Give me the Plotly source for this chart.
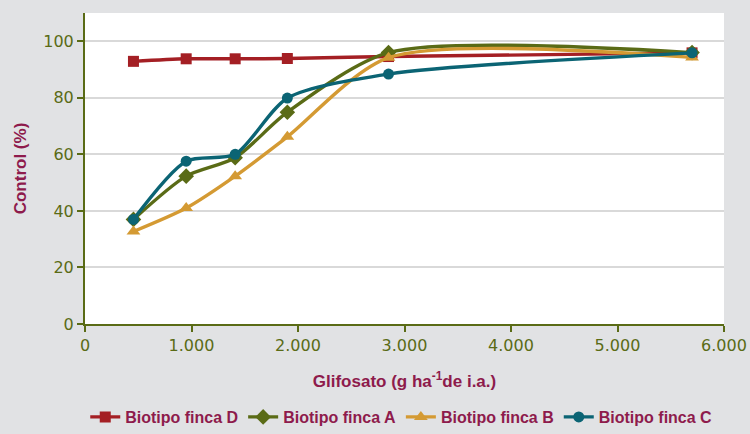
import plotly.graph_objects as go

# Glyphosate doses (g ha-1 a.i.)
dosis = [455, 950, 1410, 1900, 2850, 5700]

# Percent control per biotype
biotipo_d = [92.9, 93.8, 93.8, 93.9, 94.6, 95.9]
biotipo_a = [37.0, 52.3, 58.8, 74.9, 96.0, 96.0]
biotipo_b = [32.7, 41.0, 52.3, 66.2, 94.2, 94.3]
biotipo_c = [37.0, 57.6, 60.0, 79.9, 88.4, 95.9]

series = [
    ("Biotipo finca D", biotipo_d, "#A41F24", "square", 11),
    ("Biotipo finca A", biotipo_a, "#5A6B16", "diamond", 12),
    ("Biotipo finca B", biotipo_b, "#D49A33", "triangle-up", 12),
    ("Biotipo finca C", biotipo_c, "#0B6474", "circle", 11),
]

x_ticks = [0, 1000, 2000, 3000, 4000, 5000, 6000]
y_ticks = [0, 20, 40, 60, 80, 100]

TITLE_COLOR = "#8E1B4C"
TICK_COLOR = "#5A6B16"
LABEL_FONT = "Liberation Sans, Arial, sans-serif"
TICK_FONT = "DejaVu Sans, sans-serif"

fig = go.Figure()
for name, vals, color, symbol, size in series:
    fig.add_trace(go.Scatter(
        x=dosis, y=vals, name=name, mode="lines+markers",
        line=dict(color=color, width=3.4, shape="spline", smoothing=0.75),
        marker=dict(symbol=symbol, size=size, color=color),
    ))

fig.update_layout(
    width=750, height=434,
    margin=dict(l=85, r=26, t=13, b=110, autoexpand=False),
    paper_bgcolor="#E1E2E4",
    plot_bgcolor="#FFFFFF",
    separators=",.",
    showlegend=True,
    legend=dict(
        orientation="h", x=0.535, xanchor="center", xref="container",
        y=-0.018, yanchor="bottom", yref="container",
        font=dict(family=LABEL_FONT, size=16, color=TITLE_COLOR, weight="bold"),
        bgcolor="rgba(0,0,0,0)", itemwidth=30, tracegroupgap=0,
    ),
    xaxis=dict(
        range=[0, 6000], tickvals=x_ticks, tickformat=",d",
        showgrid=False, zeroline=False, automargin=False,
        showline=True, linecolor=TICK_COLOR, linewidth=2,
        ticks="outside", ticklen=6, tickwidth=2, tickcolor=TICK_COLOR,
        tickfont=dict(family=TICK_FONT, size=16, color=TICK_COLOR),
        title=dict(text="Glifosato (g ha<sup>-1</sup>de i.a.)",
                   font=dict(family=LABEL_FONT, size=17, color=TITLE_COLOR, weight="bold"),
                   standoff=21),
    ),
    yaxis=dict(
        range=[0, 110], tickvals=y_ticks, automargin=False,
        showgrid=True, gridcolor="#D9D9D9", gridwidth=2, zeroline=False,
        showline=True, linecolor=TICK_COLOR, linewidth=2,
        ticks="outside", ticklen=6, tickwidth=2, tickcolor=TICK_COLOR,
        tickfont=dict(family=TICK_FONT, size=16, color=TICK_COLOR),
        title=dict(text="Control (%)",
                   font=dict(family=LABEL_FONT, size=17, color=TITLE_COLOR, weight="bold"),
                   standoff=12),
    ),
)

fig.write_html("out.html")
